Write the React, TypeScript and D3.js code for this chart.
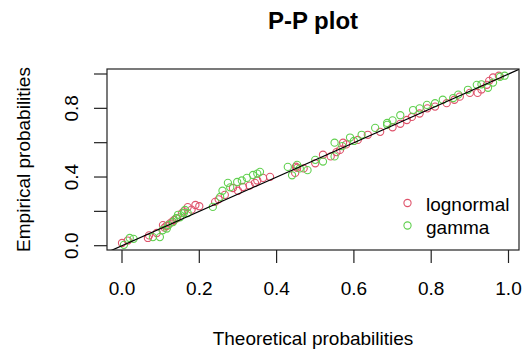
import React, { Component } from "react";
import * as d3 from "d3";

// P-P plot values: [theoretical, empirical]
const lognormalTheo = [0.0, 0.015, 0.067, 0.09, 0.106, 0.11, 0.124, 0.13, 0.142, 0.155, 0.16, 0.17, 0.19, 0.2,
  0.241, 0.266, 0.287, 0.313, 0.344, 0.365, 0.383, 0.448, 0.453, 0.45, 0.5, 0.52, 0.564, 0.572, 0.61, 0.636,
  0.668, 0.7, 0.737, 0.77, 0.79, 0.84, 0.874, 0.9, 0.92, 0.944, 0.96, 0.975,
  0.07, 0.115, 0.135, 0.18, 0.25, 0.3, 0.33, 0.35, 0.47, 0.54, 0.555, 0.58, 0.72, 0.75, 0.81, 0.86, 0.93, 0.95];
const lognormalEmp = [0.016, 0.03, 0.045, 0.074, 0.12, 0.105, 0.13, 0.14, 0.16, 0.19, 0.2, 0.225, 0.237, 0.23,
  0.255, 0.296, 0.336, 0.342, 0.366, 0.395, 0.401, 0.424, 0.453, 0.46, 0.48, 0.53, 0.558, 0.6, 0.616, 0.646,
  0.663, 0.69, 0.732, 0.77, 0.8, 0.83, 0.868, 0.89, 0.89, 0.937, 0.98, 0.99,
  0.06, 0.115, 0.15, 0.21, 0.27, 0.32, 0.35, 0.38, 0.45, 0.52, 0.545, 0.59, 0.71, 0.75, 0.81, 0.85, 0.91, 0.96];

const gammaTheo = [0.005, 0.02, 0.03, 0.08, 0.098, 0.116, 0.12, 0.132, 0.145, 0.15, 0.163, 0.17, 0.235, 0.254,
  0.274, 0.298, 0.323, 0.339, 0.357, 0.429, 0.44, 0.453, 0.48, 0.5, 0.55, 0.55, 0.59, 0.62, 0.655, 0.686,
  0.686, 0.72, 0.753, 0.789, 0.83, 0.857, 0.895, 0.918, 0.947, 0.978, 0.99,
  0.105, 0.14, 0.16, 0.26, 0.28, 0.31, 0.35, 0.46, 0.52, 0.57, 0.6, 0.7, 0.77, 0.81, 0.87, 0.93, 0.96];
const gammaEmp = [0.005, 0.045, 0.04, 0.05, 0.05, 0.1, 0.12, 0.138, 0.18, 0.165, 0.208, 0.19, 0.226, 0.284,
  0.366, 0.371, 0.395, 0.412, 0.43, 0.459, 0.41, 0.471, 0.44, 0.5, 0.52, 0.6, 0.63, 0.646, 0.686, 0.704,
  0.715, 0.76, 0.79, 0.82, 0.85, 0.86, 0.908, 0.937, 0.92, 0.984, 0.99,
  0.09, 0.16, 0.19, 0.32, 0.34, 0.38, 0.42, 0.45, 0.49, 0.58, 0.61, 0.73, 0.8, 0.83, 0.88, 0.94, 0.95];

const xTicks = [0, 0.2, 0.4, 0.6, 0.8, 1.0];
const yTicks = [0, 0.2, 0.4, 0.6, 0.8, 1.0];
const yLabels = [0, 0.4, 0.8];

const seriesNames = ["lognormal", "gamma"];
const seriesColors = ["#DF536B", "#61D04F"];

const W = 522;
const H = 350;
const box = { left: 107, right: 519, top: 69, bottom: 250 };
const font = "'Liberation Sans', Arial, sans-serif";

class App extends Component {
  el: SVGSVGElement | null = null;

  componentDidMount() {
    this.drawChart(d3.select(this.el));
  }

  drawChart(svg: any) {
    svg.selectAll("*").remove();
    const x = d3.scaleLinear().domain([0, 1]).range([122, 508.5]);
    const y = d3.scaleLinear().domain([0, 1]).range([245.7, 74]);

    svg.append("defs").append("clipPath").attr("id", "plotclip")
      .append("rect")
      .attr("x", box.left).attr("y", box.top)
      .attr("width", box.right - box.left).attr("height", box.bottom - box.top);

    const series = [
      lognormalTheo.map((t, i) => [t, lognormalEmp[i]]),
      gammaTheo.map((t, i) => [t, gammaEmp[i]]),
    ];

    const plot = svg.append("g").attr("clip-path", "url(#plotclip)");
    series.forEach((pts, k) => {
      plot.append("g").selectAll("circle")
        .data(pts)
        .join("circle")
        .attr("cx", (d: number[]) => x(d[0]))
        .attr("cy", (d: number[]) => y(d[1]))
        .attr("r", 3.6)
        .attr("fill", "none")
        .attr("stroke", seriesColors[k])
        .attr("stroke-width", 1.1);
    });

    // y = x reference line
    const x0 = x.invert(box.left);
    const x1 = x.invert(box.right);
    plot.append("line")
      .attr("x1", x(x0)).attr("y1", y(x0))
      .attr("x2", x(x1)).attr("y2", y(x1))
      .attr("stroke", "black").attr("stroke-width", 1.2);

    svg.append("rect")
      .attr("x", box.left).attr("y", box.top)
      .attr("width", box.right - box.left).attr("height", box.bottom - box.top)
      .attr("fill", "none").attr("stroke", "#222").attr("stroke-width", 1.2);

    // x axis
    const gx = svg.append("g");
    gx.selectAll("line").data(xTicks).join("line")
      .attr("x1", (d: number) => x(d)).attr("x2", (d: number) => x(d))
      .attr("y1", box.bottom).attr("y2", box.bottom + 13)
      .attr("stroke", "#222").attr("stroke-width", 1.2);
    gx.selectAll("text").data(xTicks).join("text")
      .attr("x", (d: number) => x(d)).attr("y", 295)
      .attr("text-anchor", "middle")
      .attr("font-family", font).attr("font-size", 19)
      .text((d: number) => d3.format(".1f")(d));

    // y axis
    const gy = svg.append("g");
    gy.selectAll("line").data(yTicks).join("line")
      .attr("x1", box.left - 13).attr("x2", box.left)
      .attr("y1", (d: number) => y(d)).attr("y2", (d: number) => y(d))
      .attr("stroke", "#222").attr("stroke-width", 1.2);
    gy.selectAll("text").data(yLabels).join("text")
      .attr("transform", (d: number) => `translate(78,${y(d)}) rotate(-90)`)
      .attr("text-anchor", "middle")
      .attr("font-family", font).attr("font-size", 19)
      .text((d: number) => d3.format(".1f")(d));

    // titles
    svg.append("text")
      .attr("x", (box.left + box.right) / 2).attr("y", 28.5)
      .attr("text-anchor", "middle")
      .attr("font-family", font).attr("font-size", 24).attr("font-weight", "bold")
      .text("P-P plot");
    svg.append("text")
      .attr("x", (box.left + box.right) / 2).attr("y", 344.5)
      .attr("text-anchor", "middle")
      .attr("font-family", font).attr("font-size", 19)
      .text("Theoretical probabilities");
    svg.append("text")
      .attr("transform", `translate(30,${(box.top + box.bottom) / 2}) rotate(-90)`)
      .attr("text-anchor", "middle")
      .attr("font-family", font).attr("font-size", 19)
      .text("Empirical probabilities");

    // legend
    const leg = svg.append("g");
    seriesNames.forEach((name, k) => {
      leg.append("circle")
        .attr("cx", 407.5).attr("cy", 203 + k * 22.5)
        .attr("r", 3.6).attr("fill", "none")
        .attr("stroke", seriesColors[k]).attr("stroke-width", 1.1);
      leg.append("text")
        .attr("x", 426).attr("y", 211 + k * 23)
        .attr("font-family", font).attr("font-size", 19)
        .text(name);
    });
  }

  render() {
    return (
      <svg ref={(el) => (this.el = el)} width={W} height={H}
        style={{ display: "block", position: "absolute", left: 0, top: 0 }} />
    );
  }
}

export default App;
